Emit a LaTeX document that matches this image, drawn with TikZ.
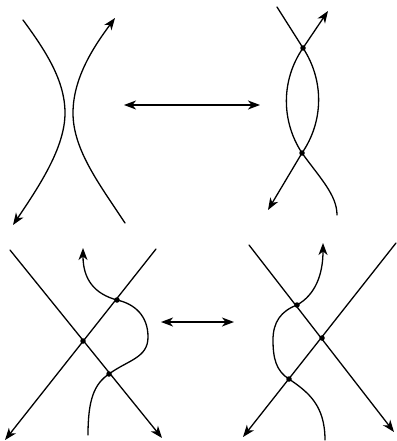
\documentclass[tikz,border=0pt]{standalone}
\usetikzlibrary{arrows.meta}
\begin{document}
\begin{tikzpicture}[x=1pt,y=-1pt,
  strand/.style={line width=1.3pt, line cap=round},
  arr/.style={-{Stealth[length=12pt,width=9pt,inset=3.5pt]}},
  darr/.style={{Stealth[length=12pt,width=9pt,inset=3.5pt]}-{Stealth[length=12pt,width=9pt,inset=3.5pt]}},
  vertex/.style={fill=black, circle, inner sep=0pt, minimum size=5.5pt}]
\useasboundingbox (0,0) rectangle (396,441);
% ---------- top left ----------
\coordinate (tlA) at (23,20);
\coordinate (tlB) at (13,225);
\coordinate (tlC) at (125,223);
\coordinate (tlD) at (115,18);
\draw[strand,arr] (tlA) .. controls (45,50) and (65,80) .. (65,113) .. controls (65,147) and (40,185) .. (tlB);
\draw[strand,arr] (tlC) .. controls (100,185) and (73,150) .. (73,113) .. controls (73,77) and (95,45) .. (tlD);
% ---------- top double arrow ----------
\coordinate (ta1) at (124,105);
\coordinate (ta2) at (260,105);
\draw[strand,darr] (ta1) -- (ta2);
% ---------- top right ----------
\coordinate (trA) at (277,7);
\coordinate (trT) at (303,48);
\coordinate (trB) at (302,153);
\coordinate (trU) at (328,11);
\coordinate (trL) at (268,210);
\coordinate (trR) at (337,215);
\draw[strand] (trA) -- (trT);
\draw[strand,arr] (trT) -- (trU);
\draw[strand] (trT) .. controls (281,80) and (281,121) .. (trB);
\draw[strand] (trT) .. controls (324,80) and (324,121) .. (trB);
\draw[strand,arr] (trB) -- (trL);
\draw[strand] (trB) .. controls (320,178) and (337,195) .. (trR);
\node[vertex] (dT) at (trT) {};
\node[vertex] (dB) at (trB) {};
% ---------- bottom left ----------
\coordinate (blA) at (10,250);
\coordinate (blAe) at (162,438);
\coordinate (blB) at (156,249);
\coordinate (blBe) at (5,440);
\coordinate (blS) at (88,435);
\coordinate (blU) at (83,248);
\coordinate (blX) at (83,341);
\coordinate (blP) at (117,300);
\coordinate (blQ) at (109,374);
\draw[strand,arr] (blA) -- (blAe);
\draw[strand,arr] (blB) -- (blBe);
\draw[strand,arr] (blS) .. controls (88,400) and (94,384) .. (blQ)
  .. controls (128,360) and (148,358) .. (148,337)
  .. controls (148,316) and (135,304) .. (blP)
  .. controls (95,294) and (83,280) .. (blU);
\node[vertex] (d1) at (blX) {};
\node[vertex] (d2) at (blP) {};
\node[vertex] (d3) at (blQ) {};
% ---------- bottom double arrow ----------
\coordinate (ba1) at (161,322);
\coordinate (ba2) at (234,322);
\draw[strand,darr] (ba1) -- (ba2);
% ---------- bottom right ----------
\coordinate (brA) at (249,245);
\coordinate (brAe) at (394,432);
\coordinate (brB) at (396,243);
\coordinate (brBe) at (243,437);
\coordinate (brS) at (325,440);
\coordinate (brU) at (323,243);
\coordinate (brP) at (297,305);
\coordinate (brX) at (322,338);
\coordinate (brQ) at (289,379);
\draw[strand,arr] (brA) -- (brAe);
\draw[strand,arr] (brB) -- (brBe);
\draw[strand,arr] (brS) .. controls (325,405) and (308,392) .. (brQ)
  .. controls (276,371) and (273,358) .. (273,340)
  .. controls (273,322) and (281,311) .. (brP)
  .. controls (315,295) and (323,275) .. (brU);
\node[vertex] (e1) at (brP) {};
\node[vertex] (e2) at (brX) {};
\node[vertex] (e3) at (brQ) {};
\end{tikzpicture}
\end{document}
